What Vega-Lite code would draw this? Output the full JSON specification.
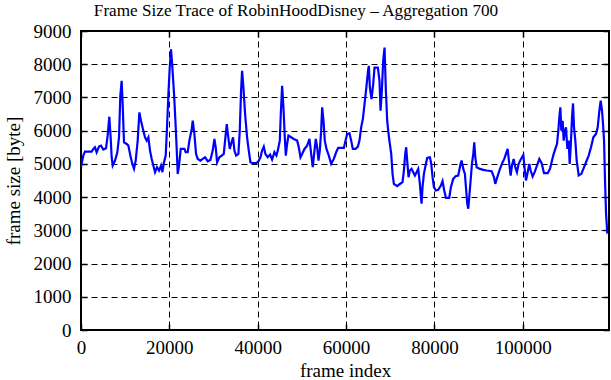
{
  "$schema": "https://vega.github.io/schema/vega-lite/v6.json",
  "width": 528,
  "height": 299,
  "autosize": "none",
  "padding": {"left": 81, "top": 31, "right": 2, "bottom": 50},
  "background": "white",
  "title": {"text": "Frame Size Trace of RobinHoodDisney – Aggregation 700", "font": "Liberation Serif", "fontSize": 17.2, "fontWeight": "normal", "color": "black", "anchor": "middle", "frame": "group", "dx": -49, "baseline": "alphabetic", "offset": 0, "dy": 11},
  "config": {
    "view": {"stroke": "black", "strokeWidth": 2},
    "axis": {"labelFont": "Liberation Serif", "titleFont": "Liberation Serif", "labelFontSize": 19, "titleFontSize": 19, "titleFontWeight": "normal", "labelColor": "black", "titleColor": "black", "tickColor": "black", "tickWidth": 1.5, "domain": false, "gridColor": "black", "gridDash": [6, 4], "gridWidth": 1, "gridOpacity": 1}
  },
  "data": {"values": [
    {"frame": 0, "size": 4900}, {"frame": 520, "size": 5250}, {"frame": 900, "size": 5370}, {"frame": 2410, "size": 5370}, {"frame": 2790, "size": 5450}, {"frame": 3160, "size": 5500}, {"frame": 3540, "size": 5350}, {"frame": 4070, "size": 5520}, {"frame": 4520, "size": 5550}, {"frame": 5050, "size": 5430}, {"frame": 5660, "size": 5470}, {"frame": 6030, "size": 5850}, {"frame": 6410, "size": 6420}, {"frame": 6710, "size": 5800}, {"frame": 6940, "size": 5200}, {"frame": 7170, "size": 4950}, {"frame": 7700, "size": 5100}, {"frame": 8220, "size": 5350}, {"frame": 8600, "size": 5800}, {"frame": 8900, "size": 7050}, {"frame": 9200, "size": 7500}, {"frame": 9430, "size": 6800}, {"frame": 9730, "size": 5650}, {"frame": 10340, "size": 5600}, {"frame": 10720, "size": 5550}, {"frame": 11170, "size": 5250}, {"frame": 11620, "size": 5000}, {"frame": 12000, "size": 4850}, {"frame": 12380, "size": 5100}, {"frame": 12830, "size": 5700}, {"frame": 13210, "size": 6550}, {"frame": 13580, "size": 6300}, {"frame": 14110, "size": 6000}, {"frame": 14490, "size": 5800}, {"frame": 14870, "size": 5700}, {"frame": 15250, "size": 5800}, {"frame": 15620, "size": 5400}, {"frame": 16000, "size": 5150}, {"frame": 16380, "size": 4950}, {"frame": 16760, "size": 4750}, {"frame": 17210, "size": 4900}, {"frame": 17660, "size": 4800}, {"frame": 18110, "size": 4950}, {"frame": 18420, "size": 4750}, {"frame": 18790, "size": 5050}, {"frame": 19170, "size": 5250}, {"frame": 19470, "size": 6100}, {"frame": 19780, "size": 7100}, {"frame": 20080, "size": 7900}, {"frame": 20380, "size": 8450}, {"frame": 20680, "size": 7900}, {"frame": 21060, "size": 7100}, {"frame": 21440, "size": 6100}, {"frame": 21740, "size": 5200}, {"frame": 21890, "size": 4700}, {"frame": 22190, "size": 4950}, {"frame": 22570, "size": 5450}, {"frame": 23400, "size": 5450}, {"frame": 23700, "size": 5350},
    {"frame": 24150, "size": 5350}, {"frame": 24530, "size": 5700}, {"frame": 25060, "size": 6050}, {"frame": 25290, "size": 6300}, {"frame": 25660, "size": 5900}, {"frame": 26040, "size": 5300}, {"frame": 26420, "size": 5150}, {"frame": 27020, "size": 5100}, {"frame": 27550, "size": 5150}, {"frame": 28080, "size": 5200}, {"frame": 28680, "size": 5080}, {"frame": 29290, "size": 5120}, {"frame": 29810, "size": 5400}, {"frame": 30190, "size": 5750}, {"frame": 30490, "size": 5500}, {"frame": 30800, "size": 5050}, {"frame": 31320, "size": 5200}, {"frame": 31850, "size": 5250}, {"frame": 32310, "size": 5300}, {"frame": 32610, "size": 5700}, {"frame": 32990, "size": 6200}, {"frame": 33290, "size": 5850}, {"frame": 33670, "size": 5450}, {"frame": 33970, "size": 5600}, {"frame": 34420, "size": 5800}, {"frame": 34720, "size": 5400}, {"frame": 35100, "size": 5250}, {"frame": 35630, "size": 5300}, {"frame": 35930, "size": 6000}, {"frame": 36230, "size": 7200}, {"frame": 36460, "size": 7800}, {"frame": 36760, "size": 7300}, {"frame": 37140, "size": 6500}, {"frame": 37590, "size": 5800}, {"frame": 37970, "size": 5400}, {"frame": 38350, "size": 5050}, {"frame": 38880, "size": 5020}, {"frame": 39630, "size": 5020}, {"frame": 40160, "size": 5080}, {"frame": 40610, "size": 5200}, {"frame": 40990, "size": 5400}, {"frame": 41370, "size": 5520}, {"frame": 41740, "size": 5300}, {"frame": 42270, "size": 5200}, {"frame": 42800, "size": 5280}, {"frame": 43250, "size": 5130}, {"frame": 43780, "size": 5350}, {"frame": 44230, "size": 5250}, {"frame": 44540, "size": 5400}, {"frame": 44990, "size": 5700}, {"frame": 45220, "size": 6500}, {"frame": 45520, "size": 7350}, {"frame": 45820, "size": 6700}, {"frame": 46120, "size": 5800}, {"frame": 46350, "size": 5250}, {"frame": 46650, "size": 5600}, {"frame": 46950, "size": 5850}, {"frame": 47560, "size": 5800},
    {"frame": 48160, "size": 5750}, {"frame": 48920, "size": 5700}, {"frame": 49290, "size": 5500}, {"frame": 49670, "size": 5200}, {"frame": 50050, "size": 5300}, {"frame": 50580, "size": 5450}, {"frame": 51180, "size": 5550}, {"frame": 51710, "size": 5750}, {"frame": 52090, "size": 5300}, {"frame": 52460, "size": 4900}, {"frame": 52840, "size": 5400}, {"frame": 53140, "size": 5750}, {"frame": 53450, "size": 5500}, {"frame": 53750, "size": 5100}, {"frame": 54050, "size": 5400}, {"frame": 54350, "size": 6000}, {"frame": 54580, "size": 6700}, {"frame": 54880, "size": 6300}, {"frame": 55180, "size": 5700}, {"frame": 55560, "size": 5450}, {"frame": 56090, "size": 5250}, {"frame": 56620, "size": 5000}, {"frame": 57220, "size": 5150}, {"frame": 57750, "size": 5350}, {"frame": 58200, "size": 5480}, {"frame": 59490, "size": 5480}, {"frame": 59860, "size": 5700}, {"frame": 60240, "size": 5900}, {"frame": 60770, "size": 5920}, {"frame": 61150, "size": 5700}, {"frame": 61520, "size": 5450}, {"frame": 62130, "size": 5450}, {"frame": 62660, "size": 5520}, {"frame": 63030, "size": 5700}, {"frame": 63410, "size": 6100}, {"frame": 63790, "size": 6350}, {"frame": 64170, "size": 6800}, {"frame": 64620, "size": 7350}, {"frame": 65000, "size": 7850}, {"frame": 65150, "size": 7950}, {"frame": 65380, "size": 7300}, {"frame": 65750, "size": 6950}, {"frame": 66130, "size": 7400}, {"frame": 66430, "size": 7900}, {"frame": 67190, "size": 7900}, {"frame": 67560, "size": 7500}, {"frame": 67790, "size": 6600}, {"frame": 68090, "size": 7200}, {"frame": 68390, "size": 8100}, {"frame": 68700, "size": 8500}, {"frame": 69000, "size": 7200}, {"frame": 69300, "size": 6300}, {"frame": 69600, "size": 5900}, {"frame": 69900, "size": 5600}, {"frame": 70210, "size": 5300}, {"frame": 70510, "size": 4700}, {"frame": 70810, "size": 4400}, {"frame": 71570, "size": 4330},
    {"frame": 72020, "size": 4380}, {"frame": 72770, "size": 4450}, {"frame": 73080, "size": 4800}, {"frame": 73380, "size": 5300}, {"frame": 73600, "size": 5500}, {"frame": 73830, "size": 5100}, {"frame": 74130, "size": 4600}, {"frame": 74430, "size": 4800}, {"frame": 74810, "size": 4850}, {"frame": 75190, "size": 4750}, {"frame": 75570, "size": 4650}, {"frame": 75950, "size": 4750}, {"frame": 76320, "size": 4850}, {"frame": 76700, "size": 4400}, {"frame": 76930, "size": 4000}, {"frame": 77080, "size": 3800}, {"frame": 77300, "size": 4300}, {"frame": 77610, "size": 4700}, {"frame": 77980, "size": 4950}, {"frame": 78360, "size": 5180}, {"frame": 78970, "size": 5200}, {"frame": 79270, "size": 5000}, {"frame": 79570, "size": 4600}, {"frame": 79870, "size": 4300}, {"frame": 80320, "size": 4200}, {"frame": 80850, "size": 4220}, {"frame": 81460, "size": 4350}, {"frame": 81830, "size": 4480}, {"frame": 82210, "size": 4200}, {"frame": 82590, "size": 3980}, {"frame": 83340, "size": 3980}, {"frame": 83720, "size": 4300}, {"frame": 84250, "size": 4550}, {"frame": 84780, "size": 4630}, {"frame": 85380, "size": 4650}, {"frame": 85910, "size": 5000}, {"frame": 86140, "size": 5100}, {"frame": 86520, "size": 4850}, {"frame": 86890, "size": 4700}, {"frame": 87120, "size": 4300}, {"frame": 87420, "size": 3800}, {"frame": 87650, "size": 3650}, {"frame": 87870, "size": 4000}, {"frame": 88180, "size": 4500}, {"frame": 88480, "size": 5000}, {"frame": 88780, "size": 5300}, {"frame": 89010, "size": 5650}, {"frame": 89230, "size": 5200}, {"frame": 89540, "size": 4900}, {"frame": 90290, "size": 4850}, {"frame": 91050, "size": 4820}, {"frame": 91800, "size": 4800}, {"frame": 92930, "size": 4780}, {"frame": 93460, "size": 4600}, {"frame": 93760, "size": 4400}, {"frame": 94220, "size": 4600}, {"frame": 94820, "size": 4850}, {"frame": 95420, "size": 5050},
    {"frame": 95800, "size": 5150}, {"frame": 96180, "size": 5300}, {"frame": 96560, "size": 5450}, {"frame": 96930, "size": 5000}, {"frame": 97240, "size": 4650}, {"frame": 97540, "size": 4950}, {"frame": 97920, "size": 5150}, {"frame": 98290, "size": 4900}, {"frame": 98670, "size": 4750}, {"frame": 99050, "size": 5000}, {"frame": 99580, "size": 5150}, {"frame": 100110, "size": 5270}, {"frame": 100410, "size": 4850}, {"frame": 100710, "size": 4500}, {"frame": 101090, "size": 4750}, {"frame": 101460, "size": 5000}, {"frame": 101770, "size": 4800}, {"frame": 102220, "size": 4620}, {"frame": 102670, "size": 4750}, {"frame": 103200, "size": 4950}, {"frame": 103730, "size": 5150}, {"frame": 104260, "size": 5020}, {"frame": 104790, "size": 4720}, {"frame": 105620, "size": 4720}, {"frame": 106150, "size": 4850}, {"frame": 106600, "size": 5100}, {"frame": 106980, "size": 5300}, {"frame": 107350, "size": 5450}, {"frame": 107730, "size": 5600}, {"frame": 108030, "size": 6000}, {"frame": 108260, "size": 6400}, {"frame": 108490, "size": 6700}, {"frame": 108710, "size": 6000}, {"frame": 109010, "size": 6300}, {"frame": 109240, "size": 5700}, {"frame": 109540, "size": 6000}, {"frame": 109770, "size": 6100}, {"frame": 110070, "size": 5450}, {"frame": 110370, "size": 5700}, {"frame": 110600, "size": 5000}, {"frame": 110830, "size": 5500}, {"frame": 111130, "size": 6400}, {"frame": 111360, "size": 6820}, {"frame": 111580, "size": 6100}, {"frame": 111880, "size": 5700}, {"frame": 112190, "size": 5100}, {"frame": 112640, "size": 4650}, {"frame": 113240, "size": 4700}, {"frame": 113700, "size": 4850}, {"frame": 114300, "size": 5050}, {"frame": 114900, "size": 5250}, {"frame": 115430, "size": 5500}, {"frame": 115960, "size": 5800}, {"frame": 116560, "size": 5900}, {"frame": 116940, "size": 6100}, {"frame": 117320, "size": 6600}, {"frame": 117620, "size": 6900}, {"frame": 117920, "size": 6600}, {"frame": 118150, "size": 6200}, {"frame": 118380, "size": 5700}, {"frame": 118600, "size": 4500}, {"frame": 118830, "size": 3500}, {"frame": 119130, "size": 2900}
  ]},
  "layer": [
    {
      "mark": {"type": "line", "color": "#0000ff", "strokeWidth": 2.2, "clip": true},
      "encoding": {
        "x": {"field": "frame", "type": "quantitative", "scale": {"domain": [0, 119500], "nice": false, "zero": false},
          "axis": {"orient": "bottom", "title": "frame index", "values": [0, 20000, 40000, 60000, 80000, 100000], "format": "d", "grid": true, "tickSize": -6, "labelPadding": 14, "titlePadding": 4, "labelFlush": false, "labelOverlap": false}},
        "y": {"field": "size", "type": "quantitative", "scale": {"domain": [0, 9000], "nice": false},
          "axis": {"orient": "left", "title": "frame size [byte]", "values": [0, 1000, 2000, 3000, 4000, 5000, 6000, 7000, 8000, 9000], "format": "d", "grid": true, "tickSize": -6, "labelPadding": 16, "titlePadding": 10, "labelFlush": false, "labelOverlap": false}}
      }
    },
    {
      "mark": {"type": "line", "color": "#0000ff", "strokeWidth": 2, "opacity": 0},
      "encoding": {
        "x": {"field": "frame", "type": "quantitative",
          "axis": {"orient": "top", "title": null, "labels": false, "grid": false, "values": [0, 20000, 40000, 60000, 80000, 100000], "tickSize": -6}},
        "y": {"field": "size", "type": "quantitative",
          "axis": {"orient": "right", "title": null, "labels": false, "grid": false, "values": [0, 1000, 2000, 3000, 4000, 5000, 6000, 7000, 8000, 9000], "tickSize": -6}}
      }
    }
  ],
  "resolve": {"axis": {"x": "independent", "y": "independent"}}
}
